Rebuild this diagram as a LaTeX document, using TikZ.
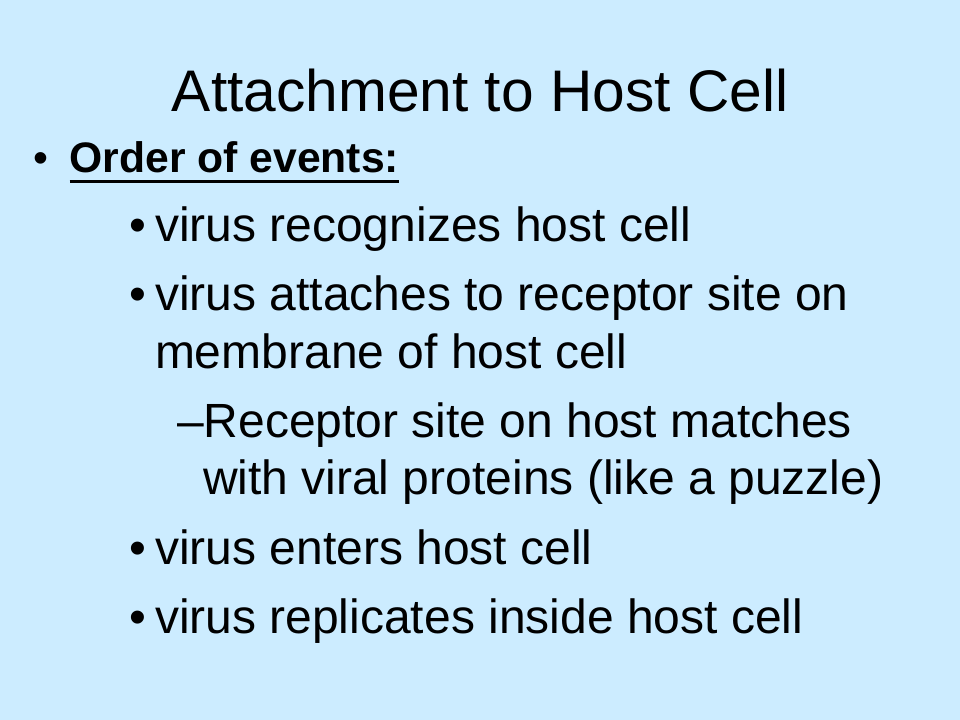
\documentclass[tikz,border=0pt]{standalone}
\usepackage{fontspec}
\setmainfont{Liberation Sans}
\usepackage{tikz}
\usetikzlibrary{positioning, calc}
\definecolor{slidebg}{HTML}{CCECFF}

\begin{document}
\begin{tikzpicture}[x=0.75pt,y=-0.75pt,
			every node/.style={inner sep=0pt,outer sep=0pt},
			title node/.style={anchor=base,font=\fontsize{44}{53}\selectfont},
			head node/.style={anchor=base west,font=\fontsize{32}{38}\bfseries\selectfont},
			item node/.style={anchor=base west,font=\fontsize{36}{43}\selectfont},
			dot node/.style={anchor=base,font=\fontsize{36}{43}\selectfont}]
			
			\fill[slidebg] (0,0) rectangle (960,720);
			\useasboundingbox (0,0) rectangle (960,720);
			
			\node[title node] (title) at (480,111.7) {Attachment to Host Cell};
			
			\node[dot node,font=\fontsize{32}{38}\selectfont] (d0) at (41,173) {•};
			\node[head node] (head) at (69.5,173) {Order of events:};
			\draw[line width=2pt] ($(head.base west)+(0,8.7)$) -- ($(head.base east)+(0,8.7)$);
			
			\node[dot node] (d1) at (138,241.5) {•};
			\node[item node] (i1) at (155,241.5) {virus recognizes host cell};
			
			\node[dot node] (d2) at (138,310.5) {•};
			\node[item node] (i2) at (155,310.5) {virus attaches to receptor site on};
			\node[item node] (i2b) at (155,368) {membrane of host cell};
			
			\node[item node] (s1) at (177,437) {–Receptor site on host matches};
			\node[item node] (s1b) at (203,494) {with viral proteins (like a puzzle)};
			
			\node[dot node] (d3) at (138,564) {•};
			\node[item node] (i3) at (155,564) {virus enters host cell};
			
			\node[dot node] (d4) at (138,633) {•};
			\node[item node] (i4) at (155,633) {virus replicates inside host cell};
		\end{tikzpicture}
\end{document}
